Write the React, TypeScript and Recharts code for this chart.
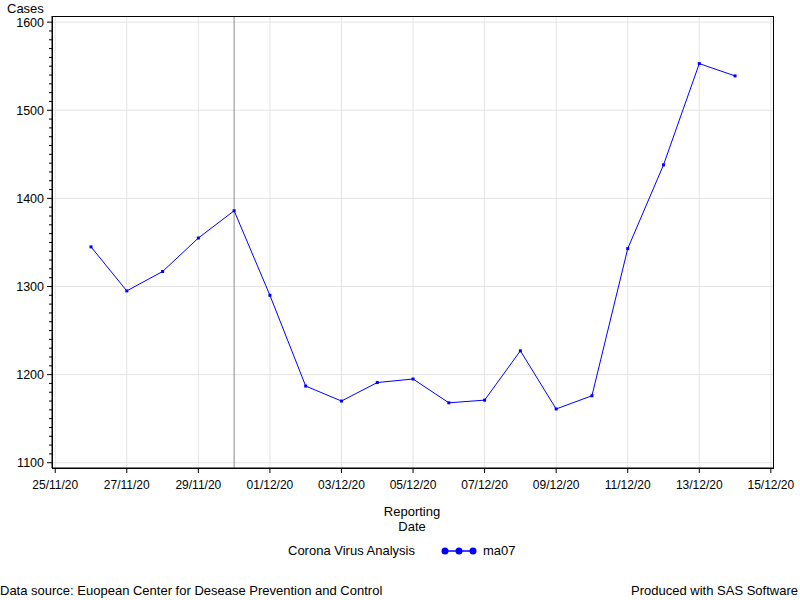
import { LineChart, Line, XAxis, YAxis, CartesianGrid, ReferenceLine } from 'recharts';

// day index 0 = 25/11/20
const days = [1, 2, 3, 4, 5, 6, 7, 8, 9, 10, 11, 12, 13, 14, 15, 16, 17, 18, 19];
const ma07 = [1345, 1295, 1317, 1355, 1386, 1290, 1187, 1170, 1191, 1195, 1168, 1171, 1227, 1161, 1176, 1343, 1438, 1553, 1539];

const xTicks = [0, 2, 4, 6, 8, 10, 12, 14, 16, 18, 20];
const xLabels = ['25/11/20', '27/11/20', '29/11/20', '01/12/20', '03/12/20', '05/12/20', '07/12/20', '09/12/20', '11/12/20', '13/12/20', '15/12/20'];
const yMajor = [1100, 1200, 1300, 1400, 1500, 1600];
const yTicks: number[] = [];
for (let v = 1100; v <= 1600; v += 10) yTicks.push(v);
const refDay = 5;

const data = days.map((d, i) => ({ day: d, ma07: ma07[i] }));

const font = '"Liberation Sans", Arial, sans-serif';

const YTick = (props: any) => {
  const { x, y, payload } = props;
  const major = payload.value % 100 === 0;
  return (
    <g>
      <line x1={x - (major ? 5 : 3)} x2={x} y1={y} y2={y} stroke="#000" />
      {major && (
        <text x={x - 8} y={y} dy={4.5} textAnchor="end" fontSize={12.5} fontFamily={font} fill="#000">
          {payload.value}
        </text>
      )}
    </g>
  );
};

const XTick = (props: any) => {
  const { x, y, payload } = props;
  const idx = xTicks.indexOf(payload.value);
  return (
    <g>
      <line x1={x} x2={x} y1={y} y2={y + 5} stroke="#000" />
      <text x={x} y={y + 21} textAnchor="middle" fontSize={12} fontFamily={font} fill="#000">
        {xLabels[idx]}
      </text>
    </g>
  );
};

const Dot = (props: any) => {
  const { cx, cy } = props;
  return <rect x={cx - 1.5} y={cy - 1.5} width={3} height={3} fill="#0000ff" />;
};

export default function App() {
  return (
    <div style={{ position: 'absolute', left: 0, top: 0, width: 800, height: 600, background: '#fff', fontFamily: font, fontSize: 13 }}>
      <LineChart width={800} height={600} data={data} margin={{ top: 16, right: 27, left: 0, bottom: 0 }}>
        <CartesianGrid stroke="#e4e4e4" horizontalValues={yMajor} verticalValues={xTicks} />
        <XAxis
          dataKey="day"
          type="number"
          domain={[-0.09, 20.06]}
          ticks={xTicks}
          height={132}
          tickSize={0}
          tickMargin={0}
          tickLine={false}
          axisLine={{ stroke: '#000' }}
          tick={<XTick />}
          interval={0}
        />
        <YAxis
          type="number"
          domain={[1094, 1607]}
          ticks={yTicks}
          width={52}
          tickSize={0}
          tickMargin={0}
          tickLine={false}
          axisLine={{ stroke: '#000' }}
          tick={<YTick />}
          interval={0}
        />
        <ReferenceLine x={refDay} stroke="#8c8c8c" strokeWidth={1} />
        <Line
          type="linear"
          dataKey="ma07"
          stroke="#0000ff"
          strokeWidth={1}
          dot={<Dot />}
          isAnimationActive={false}
        />
      </LineChart>
      <div style={{ position: 'absolute', left: 52, top: 16, width: 720, height: 451, border: '1px solid #000', pointerEvents: 'none' }} />
      <div style={{ position: 'absolute', left: 7, top: 1 }}>Cases</div>
      <div style={{ position: 'absolute', left: 312, width: 200, top: 504, textAlign: 'center', lineHeight: '15px' }}>
        Reporting<br />Date
      </div>
      <div style={{ position: 'absolute', left: 288, top: 543, display: 'flex', alignItems: 'center', lineHeight: '16px' }}>
        <span>Corona Virus Analysis</span>
        <svg width={36} height={12} style={{ marginLeft: 26, marginRight: 6 }}>
          <line x1={3} x2={33} y1={6} y2={6} stroke="#0000ff" strokeWidth={1.5} />
          <circle cx={4} cy={6} r={3.5} fill="#0000ff" />
          <circle cx={18} cy={6} r={3.5} fill="#0000ff" />
          <circle cx={32} cy={6} r={3.5} fill="#0000ff" />
        </svg>
        <span>ma07</span>
      </div>
      <div style={{ position: 'absolute', left: 0, top: 583 }}>Data source: Euopean Center for Desease Prevention and Control</div>
      <div style={{ position: 'absolute', right: 2, top: 583 }}>Produced with SAS Software</div>
    </div>
  );
}
